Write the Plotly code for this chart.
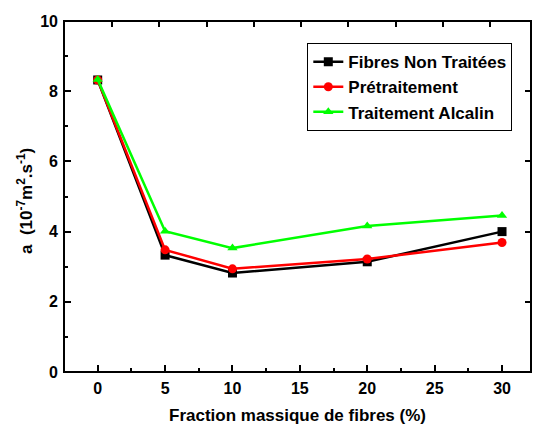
import plotly.graph_objects as go

fraction = [0, 5, 10, 20, 30]
non_traitees = [8.32, 3.33, 2.82, 3.14, 4.00]
pretraitement = [8.32, 3.48, 2.94, 3.22, 3.69]
alcalin = [8.33, 4.01, 3.53, 4.16, 4.46]

names = ["Fibres Non Traitées", "Prétraitement", "Traitement Alcalin"]
colors = ["#000000", "#ff0000", "#00ff00"]
symbols = ["square", "circle", "triangle-up"]
series = [non_traitees, pretraitement, alcalin]

x_ticks = [0, 5, 10, 15, 20, 25, 30]
x_minor = [2.5, 7.5, 12.5, 17.5, 22.5, 27.5]
y_ticks = [0, 2, 4, 6, 8, 10]
y_minor = [1, 3, 5, 7, 9]
right_ticks = [2, 4, 6, 8]
top_tick_count = 9

FONT = "Liberation Sans, Arial, sans-serif"
W, H = 533, 428
ML, MR, MT, MB = 64, 2, 21, 56
PW, PH = W - ML - MR, H - MT - MB
XMIN, XMAX = -2.5, 32.15
YMIN, YMAX = 0, 10

fig = go.Figure()
for n, c, s, v in zip(names, colors, symbols, series):
    fig.add_trace(go.Scatter(
        x=fraction, y=v, name="<b>" + n + "</b>", mode="lines+markers",
        line=dict(color=c, width=2.5),
        marker=dict(symbol=s, size=9, color=c),
    ))

annotations = [
    dict(text="<b>Fraction massique de fibres (%)</b>", xref="paper", yref="paper",
         x=0.5, y=-(415 - (MT + PH)) / PH, xanchor="center", yanchor="middle",
         showarrow=False, font=dict(family=FONT, size=17, color="black")),
    dict(text="<b>a  (10<sup>-7</sup>m<sup>2</sup>.s<sup>-1</sup>)</b>", xref="paper", yref="paper",
         x=-(ML - 25) / PW, y=1 - (201 - MT) / PH, xanchor="center", yanchor="middle",
         textangle=-90, showarrow=False, font=dict(family=FONT, size=17, color="black")),
    # plot frame: a bordered box the size of the plotting area
    dict(text=" ", xref="paper", yref="paper", x=0.5, y=0.5, xanchor="center", yanchor="middle",
         width=PW - 2, height=PH - 2, borderwidth=2, borderpad=0, bordercolor="black",
         bgcolor="rgba(0,0,0,0)", showarrow=False, font=dict(size=1)),
]

def tick(xref, x, yref, y, xanchor, yanchor, w, h):
    annotations.append(dict(text=" ", xref=xref, x=x, yref=yref, y=y,
                            xanchor=xanchor, yanchor=yanchor, width=w, height=h,
                            borderwidth=0, borderpad=0, bgcolor="black",
                            showarrow=False, font=dict(size=1)))

for t in x_ticks:
    tick("x", t, "paper", 0, "center", "bottom", 2, 7)
for t in x_minor:
    tick("x", t, "paper", 0, "center", "bottom", 2, 4)
for t in y_ticks[1:-1]:
    tick("paper", 0, "y", t, "left", "middle", 7, 2)
for t in y_minor:
    tick("paper", 0, "y", t, "left", "middle", 4, 2)
for t in right_ticks:
    tick("paper", 1, "y", t, "right", "middle", 6, 2)
for k in range(top_tick_count):
    tick("paper", (48 + 47.25 * k) / PW, "paper", 1, "center", "top", 2, 6)

fig.update_layout(
    width=W, height=H,
    margin=dict(l=ML, r=MR, t=MT, b=MB),
    paper_bgcolor="white", plot_bgcolor="white",
    font=dict(family=FONT, color="black"),
    showlegend=True,
    legend=dict(
        x=0.521, y=0.937, xanchor="left", yanchor="top",
        bgcolor="white", bordercolor="black", borderwidth=1,
        font=dict(family=FONT, size=17, color="black"),
        tracegroupgap=0,
    ),
    xaxis=dict(
        range=[XMIN, XMAX], tickmode="array", tickvals=x_ticks,
        ticktext=["<b>%d</b>" % t for t in x_ticks],
        ticks="", showline=False, showgrid=False, zeroline=False,
        tickfont=dict(family=FONT, size=16, color="black"),
        ticklabelstandoff=5, automargin=False,
    ),
    yaxis=dict(
        range=[YMIN, YMAX], tickmode="array", tickvals=y_ticks,
        ticktext=["<b>%d</b>" % t for t in y_ticks],
        ticks="", showline=False, showgrid=False, zeroline=False,
        tickfont=dict(family=FONT, size=16, color="black"),
        ticklabelstandoff=5, automargin=False,
    ),
    annotations=annotations,
)

fig.write_html("out.html", post_script="document.body.style.margin='0';",
               config={"displayModeBar": False})
